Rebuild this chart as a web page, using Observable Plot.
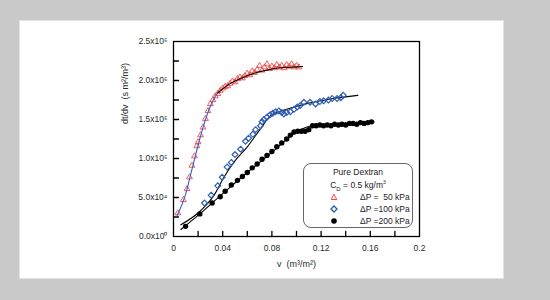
<!DOCTYPE html>
<html>
<head>
<meta charset="utf-8">
<script src="https://cdn.jsdelivr.net/npm/d3@7"></script>
<script src="https://cdn.jsdelivr.net/npm/@observablehq/plot@0.6"></script>
<style>
  html, body { margin: 0; padding: 0; }
  body { width: 550px; height: 300px; background: #c9c9c9; position: relative; overflow: hidden; font-family: "Liberation Sans", Arial, sans-serif; }
  #panel { position: absolute; left: 19px; top: 20px; width: 483px; height: 257px; background: #fff; border: 1px solid #e2e2e2; }
  #chart { position: absolute; left: 0; top: 0; }
  #legend { position: absolute; left: 303px; top: 163px; width: 108px; height: 63px; border: 1px solid #666; border-radius: 8px; background: #fff; font-size: 8.5px; color: #222; }
  #legend .t { position: absolute; left: 0; width: 100%; text-align: center; }
  #legend .row { position: absolute; left: 0; width: 100%; height: 11px; }
  #legend .row svg { position: absolute; left: 26px; top: 1px; }
  #legend .row span { position: absolute; left: 56px; white-space: pre; }
</style>
</head>
<body>
<div id="panel"></div>
<div id="chart"></div>
<div id="legend">
  <div class="t" style="top:3px">Pure Dextran</div>
  <div class="t" style="top:15px">C<sub style="font-size:6px">D</sub> = 0.5 kg/m<sup style="font-size:5px">3</sup></div>
  <div class="row" style="top:28px"><svg width="8" height="8"><polygon points="4,1.2 6.8,6.5 1.2,6.5" fill="none" stroke="#ef4b45" stroke-width="1"/></svg><span>ΔP =  50 kPa</span></div>
  <div class="row" style="top:40px"><svg width="8" height="8"><polygon points="4,1 7,4 4,7 1,4" fill="none" stroke="#2f5fb3" stroke-width="1.4"/></svg><span>ΔP =100 kPa</span></div>
  <div class="row" style="top:52px"><svg width="8" height="8"><circle cx="4" cy="4" r="2.8" fill="#000"/></svg><span>ΔP =200 kPa</span></div>
</div>
<script>
// ---- tick values and labels ----
const xTicks = [0, 0.04, 0.08, 0.12, 0.16, 0.2];
const xTickLabels = ["0", "0.04", "0.08", "0.12", "0.16", "0.2"];
const xMinorTicks = [0.02, 0.04, 0.06, 0.08, 0.10, 0.12, 0.14, 0.16, 0.18];
const yTicks = [0, 50000, 100000, 150000, 200000, 250000];
const yTickLabels = ["0.0x10⁰", "5.0x10⁴", "1.0x10⁵", "1.5x10⁵", "2.0x10⁵", "2.5x10⁵"];
const yMinorTicks = [25000, 50000, 75000, 100000, 125000, 150000, 175000, 200000, 225000];
const xLabel = "v  (m³/m²)";
const yLabel = "dt/dv  (s m²/m³)";

// ---- ΔP = 50 kPa (red triangles) ----
const v50 = [0.0035,0.008,0.011,0.013,0.015,0.017,0.019,0.020,0.022,0.024,0.026,0.028,0.030,0.032,0.034,0.036,0.038,0.040,0.042,0.044,0.046,0.048,0.050,0.052,0.054,0.056,0.058,0.060,0.062,0.064,0.066,0.068,0.070,0.072,0.074,0.076,0.078,0.080,0.082,0.084,0.086,0.088,0.090,0.092,0.094,0.096,0.098,0.100,0.102];
const t50 = [30000,47000,61000,76000,91000,103000,116000,121000,130000,140000,151000,161000,170000,175000,180000,183000,187000,190000,192000,193000,196000,199000,198000,202000,204000,203000,206000,209000,207000,212000,210000,214000,219000,213000,217000,221000,215000,218000,216000,220000,217000,219000,216000,220000,218000,221000,217000,219000,217000];

// ---- ΔP = 100 kPa (blue diamonds) ----
const v100 = [0.0252,0.0306,0.036,0.0396,0.0436,0.047,0.050,0.0545,0.0585,0.061,0.0645,0.0667,0.0707,0.072,0.0734,0.076,0.0785,0.0807,0.083,0.0856,0.088,0.0897,0.092,0.095,0.098,0.1006,0.103,0.106,0.111,0.1155,0.119,0.122,0.126,0.129,0.133,0.136,0.138];
const t100 = [43000,53000,65000,76000,89000,95000,105000,112000,122000,126000,131000,137000,142000,147000,150000,153000,156000,158000,160000,161000,159000,157000,159000,160000,163000,166000,168000,172000,172000,170000,173000,174000,175000,177000,177000,178000,181000];

// ---- ΔP = 200 kPa (black circles) ----
const v200 = [0.0098,0.0214,0.0314,0.038,0.042,0.047,0.052,0.056,0.060,0.064,0.068,0.072,0.076,0.080,0.084,0.088,0.092,0.095,0.098,0.101,0.104,0.107,0.110,0.113,0.116,0.119,0.122,0.125,0.128,0.131,0.134,0.137,0.140,0.143,0.146,0.149,0.152,0.155,0.158,0.161];
const t200 = [13000,29000,43000,51000,58000,66000,72000,77000,82000,88000,93000,99000,104000,109000,115000,120000,125000,130000,134000,135000,135000,135000,137000,142000,142000,143000,142000,143000,142000,144000,143000,144000,143000,145000,145000,144000,146000,145000,146000,147000];

// ---- fitted curves ----
const fit50aV = [0.003,0.010,0.015,0.020,0.025,0.030,0.035,0.038];
const fit50aT = [27000,55000,86000,117000,145000,167000,182000,187000];
const fit50bV = [0.036,0.045,0.055,0.065,0.075,0.085,0.095,0.105];
const fit50bT = [184000,195000,203000,209000,213000,216000,217000,218000];
const fit100V = [0.006,0.022,0.033,0.041,0.049,0.060,0.0707,0.079,0.090,0.100,0.110,0.120,0.130,0.140,0.150];
const fit100T = [15000,33000,53000,76000,95000,115000,138000,155000,162000,167000,171000,174000,177000,179000,181000];
const fit200V = [0.006,0.020,0.040,0.060,0.080,0.100,0.110,0.120,0.140,0.163];
const fit200T = [9000,27000,55000,82000,108000,134000,141000,143000,145000,147000];

const zip = (vs, ts) => vs.map((v, i) => ({v, t: ts[i]}));
const d50 = zip(v50, t50), d100 = zip(v100, t100), d200 = zip(v200, t200);
const tickShape = {draw(ctx, l) { ctx.moveTo(0, 0); ctx.lineTo(0, -l); }};

const chart = Plot.plot({
  width: 550,
  height: 300,
  marginLeft: 173,
  marginRight: 131,
  marginTop: 41,
  marginBottom: 64,
  style: {background: "transparent", fontFamily: "Liberation Sans, Arial, sans-serif", fontSize: "8.5px", color: "#2a2a2a"},
  x: {domain: [0, 0.2]},
  y: {domain: [0, 250000]},
  marks: [
    Plot.axisX(xTicks, {tickSize: 0, tickPadding: 8, tickFormat: (d, i) => xTickLabels[i], label: null, fontSize: 8.5}),
    Plot.axisY(yTicks, {tickSize: 0, tickPadding: 6, tickFormat: (d, i) => yTickLabels[i], label: null, fontSize: 8.5}),
    Plot.text([xLabel], {frameAnchor: "bottom", dy: 30, fontSize: 9, text: d => d}),
    Plot.text([yLabel], {frameAnchor: "left", dx: -48, dy: -15, rotate: -90, fontSize: 9, text: d => d}),
    Plot.vector(xMinorTicks, {x: d => d, y: () => 0, length: 5, rotate: 0, anchor: "start", shape: tickShape, stroke: "#000", strokeWidth: 1.3}),
    Plot.vector(yMinorTicks, {x: () => 0, y: d => d, length: 5, rotate: 90, anchor: "start", shape: tickShape, stroke: "#000", strokeWidth: 1.3}),
    Plot.frame({stroke: "#000", strokeWidth: 1.3}),
    Plot.line(zip(fit200V, fit200T), {x: "v", y: "t", stroke: "#000", strokeWidth: 1.1, curve: "monotone-x"}),
    Plot.line(zip(fit100V, fit100T), {x: "v", y: "t", stroke: "#000", strokeWidth: 1.1, curve: "monotone-x"}),
    Plot.dot(d200, {x: "v", y: "t", r: 2.7, fill: "#000"}),
    Plot.dot(d100, {x: "v", y: "t", symbol: "diamond2", r: 2.6, stroke: "#2f5fb3", strokeWidth: 1.2, fill: "none"}),
    Plot.dot(d50, {x: "v", y: "t", symbol: "triangle2", r: 2.8, stroke: "#ef4b45", strokeWidth: 0.9, fill: "none"}),
    Plot.line(zip(fit50aV, fit50aT), {x: "v", y: "t", stroke: "#2f5fd0", strokeWidth: 1.1, curve: "monotone-x"}),
    Plot.line(zip(fit50bV, fit50bT), {x: "v", y: "t", stroke: "#000", strokeWidth: 1.1, curve: "monotone-x"})
  ]
});
document.getElementById("chart").appendChild(chart);
</script>
</body>
</html>
